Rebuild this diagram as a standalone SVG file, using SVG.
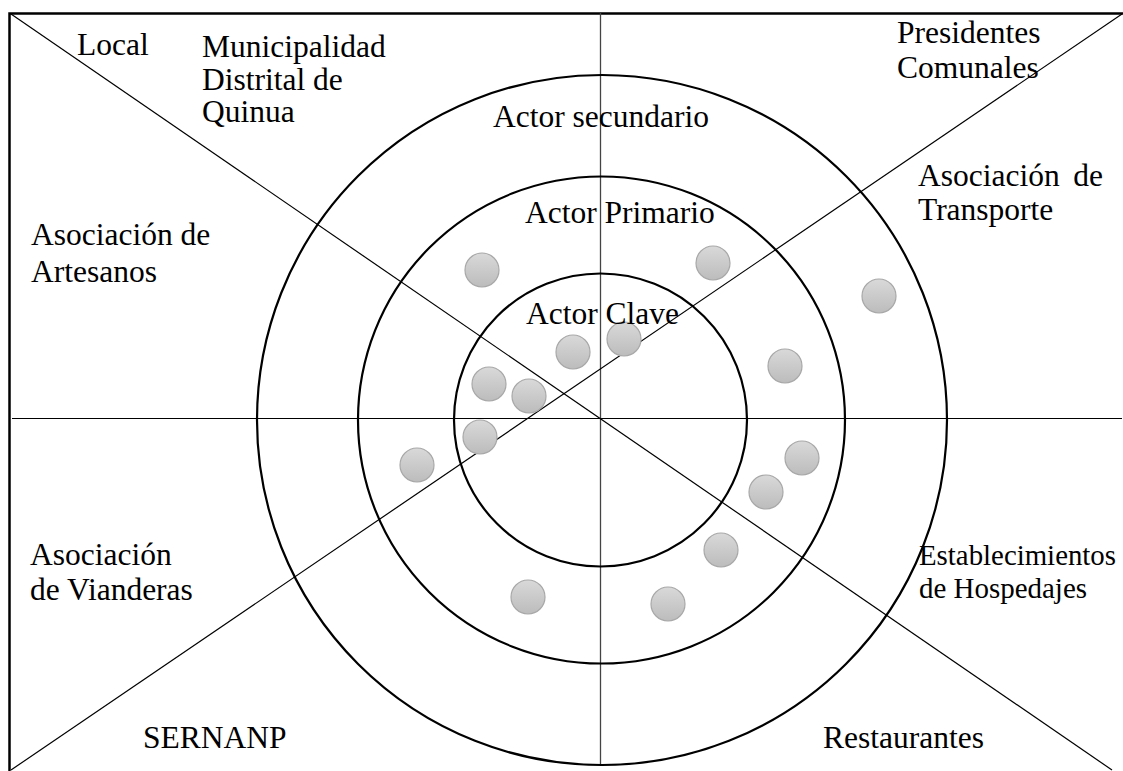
<svg xmlns="http://www.w3.org/2000/svg" width="1123" height="771" viewBox="0 0 1123 771">
<style>
.t{font-family:"Liberation Serif","Times New Roman",serif;font-size:31.5px;fill:#000}
.s{font-size:29.8px}
.ring{fill:none;stroke:#000;stroke-width:2.2}
.ln{stroke:#000;stroke-width:1.2;fill:none}
.dot{fill:url(#g);stroke:#a8a8a8;stroke-width:1.2}
</style>
<defs>
<linearGradient id="g" x1="0" y1="0" x2="0" y2="1">
<stop offset="0" stop-color="#d9d9d9"/>
<stop offset="1" stop-color="#bcbcbc"/>
</linearGradient>
</defs>
<rect width="1123" height="771" fill="#fff"/>
<g id="frame">
<path d="M9.5 771 V13.5 H1123" fill="none" stroke="#000" stroke-width="2.5"/>
</g>
<g id="connectors">
<line class="ln" x1="12" y1="418.5" x2="1122" y2="418.5"/>
<line x1="600.5" y1="13" x2="600.5" y2="765" stroke="#444" stroke-width="1.3"/>
<line class="ln" x1="11" y1="14" x2="1112" y2="770"/>
<line class="ln" x1="1122" y1="14" x2="11" y2="770"/>
</g>
<g id="rings">
<circle class="ring" cx="602" cy="420" r="345"/>
<circle class="ring" cx="601.5" cy="420" r="243.5"/>
<circle class="ring" cx="600.5" cy="420" r="146.5"/>
</g>
<g id="dots">
<circle class="dot" cx="482" cy="270" r="17"/>
<circle class="dot" cx="713" cy="263" r="17"/>
<circle class="dot" cx="879" cy="296" r="17"/>
<circle class="dot" cx="573" cy="352" r="17"/>
<circle class="dot" cx="624" cy="339" r="17"/>
<circle class="dot" cx="489" cy="384" r="17"/>
<circle class="dot" cx="529" cy="396" r="17"/>
<circle class="dot" cx="785" cy="366" r="17"/>
<circle class="dot" cx="480" cy="437" r="17"/>
<circle class="dot" cx="417" cy="465" r="17"/>
<circle class="dot" cx="802" cy="458" r="17"/>
<circle class="dot" cx="766" cy="492" r="17"/>
<circle class="dot" cx="721" cy="550" r="17"/>
<circle class="dot" cx="528" cy="597" r="17"/>
<circle class="dot" cx="668" cy="604" r="17"/>
</g>
<g id="labels">
<text class="t" x="77" y="55">Local</text>
<text class="t" x="202" y="57">Municipalidad<tspan x="202" y="90">Distrital de</tspan><tspan x="202" y="122">Quinua</tspan></text>
<text class="t" x="897" y="43">Presidentes<tspan x="897" y="78">Comunales</tspan></text>
<text class="t" x="493" y="127">Actor secundario</text>
<text class="t" x="525" y="223">Actor Primario</text>
<text class="t" x="526" y="324">Actor Clave</text>
<text class="t" x="918" y="186">Asociación</text>
<text class="t" x="1103" y="186" text-anchor="end">de</text>
<text class="t" x="918" y="220">Transporte</text>
<text class="t" x="31" y="245">Asociación de<tspan x="31" y="282">Artesanos</tspan></text>
<text class="t" x="30" y="565">Asociación<tspan x="30" y="600">de Vianderas</tspan></text>
<text class="t s" x="919" y="565" textLength="197" lengthAdjust="spacingAndGlyphs">Establecimientos</text>
<text class="t s" x="919" y="598" textLength="168" lengthAdjust="spacingAndGlyphs">de Hospedajes</text>
<text class="t" x="143" y="748">SERNANP</text>
<text class="t" x="823" y="748">Restaurantes</text>
</g>
</svg>
